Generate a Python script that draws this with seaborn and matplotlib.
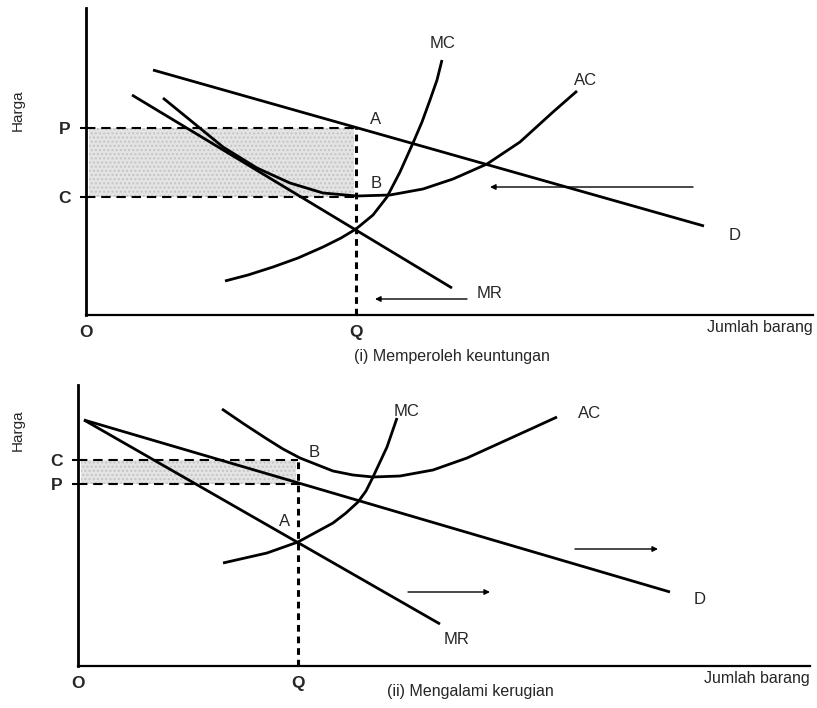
import matplotlib
matplotlib.use("Agg")
import matplotlib.pyplot as plt
import pandas as pd
import seaborn as sns

sns.set_style("white")
plt.rcParams['font.family'] = ['Liberation Sans', 'DejaVu Sans']

# ---------------- Panel (i): Memperoleh keuntungan ----------------
p1_d_q = [6.7, 61.8]
p1_d_p = [24.5, 8.9]
p1_mr_q = [4.6, 36.6]
p1_mr_p = [22.0, 2.7]
p1_ac_q = [7.7, 10.4, 13.7, 17.1, 20.4, 23.7, 27.1, 30.4, 33.7, 36.7, 40.1, 43.4, 46.7, 49.1]
p1_ac_p = [21.7, 19.5, 16.8, 14.7, 13.2, 12.2, 11.9, 12.0, 12.6, 13.6, 15.1, 17.3, 20.3, 22.4]
p1_mc_q = [13.9, 16.2, 18.7, 21.2, 23.7, 25.5, 27.0, 28.7, 30.1, 31.4, 32.7, 33.6, 34.4, 35.1, 35.6]
p1_mc_p = [3.4, 4.0, 4.8, 5.7, 6.8, 7.7, 8.6, 10.0, 11.8, 14.3, 17.2, 19.3, 21.5, 23.5, 25.5]
p1_price, p1_cost, p1_qty = 18.7, 11.8, 27.0
p1_arrows = [((60.7, 12.8), (40.4, 12.8)), ((38.1, 1.6), (28.9, 1.6))]
p1_curve_labels = [("A", 29.0, 19.5), ("B", 29.0, 13.2), ("MC", 35.7, 27.2),
                   ("AC", 50.0, 23.5), ("D", 64.9, 7.9), ("MR", 40.4, 2.1)]

# ---------------- Panel (ii): Mengalami kerugian ----------------
p2_d_q = [0.6, 59.2]
p2_d_p = [24.6, 7.4]
p2_mr_q = [0.6, 36.2]
p2_mr_p = [24.6, 4.2]
p2_ac_q = [14.4, 16.6, 18.9, 20.5, 22.2, 25.5, 27.5, 29.5, 32.2, 35.5, 38.9, 42.2, 45.5, 47.9]
p2_ac_p = [25.7, 24.2, 22.7, 21.7, 20.8, 19.5, 19.1, 18.9, 19.0, 19.6, 20.8, 22.3, 23.8, 24.9]
p2_mc_q = [14.5, 18.9, 22.0, 25.5, 26.8, 28.0, 28.8, 29.5, 30.9, 31.9]
p2_mc_p = [10.3, 11.3, 12.4, 14.3, 15.3, 16.4, 17.5, 18.9, 21.9, 24.8]
p2_price, p2_cost, p2_qty = 18.2, 20.6, 22.0
p2_arrows = [((49.7, 11.7), (58.0, 11.7)), ((33.0, 7.4), (41.2, 7.4))]
p2_curve_labels = [("A", 20.7, 14.4), ("B", 23.6, 21.4), ("MC", 32.9, 25.5),
                   ("AC", 51.2, 25.3), ("D", 62.2, 6.6), ("MR", 37.9, 2.6)]


def curves_frame(parts):
    rows = []
    for name, qs, ps in parts:
        for q, p in zip(qs, ps):
            rows.append({"curve": name, "q": q, "p": p})
    return pd.DataFrame(rows)


def draw_panel(ax, df, xmax, ymax, price, cost, qty, profit, arrows, labels,
               caption, cap_xy, harga_xy):
    ax.set_xlim(0, xmax)
    ax.set_ylim(0, ymax)

    # shaded profit / loss rectangle
    lo, hi = min(price, cost), max(price, cost)
    ax.fill_between([0.3, qty - 0.2], lo, hi, facecolor="#e4e4e4",
                    edgecolor="#c4c4c4", hatch="....", linewidth=0, zorder=1)

    sns.lineplot(data=df, x="q", y="p", units="curve", estimator=None,
                 sort=False, color="black", linewidth=2.0, ax=ax, zorder=3,
                 legend=False)
    for line in ax.lines:
        line.set_solid_joinstyle("round")
        line.set_solid_capstyle("butt")

    # dashed guide lines
    ax.plot([0, qty + 0.2], [price, price], color="black", lw=1.5,
            dashes=(4.5, 2.8), zorder=2)
    ax.plot([0, qty], [cost, cost], color="black", lw=1.5,
            dashes=(4.5, 2.8), zorder=2)
    ax.plot([qty, qty], [0, hi], color="black", lw=2.2,
            dashes=(2.2, 1.6), zorder=2)

    for (x0, y0), (x1, y1) in arrows:
        ax.annotate("", xy=(x1, y1), xytext=(x0, y0),
                    arrowprops=dict(arrowstyle="-|>", lw=1.0, color="black",
                                    mutation_scale=8, shrinkA=0, shrinkB=0))

    for text, x, y in labels:
        ax.text(x, y, text, fontsize=12, ha="center", va="center")

    # axes and tick labels
    sns.despine(ax=ax)
    ax.spines["left"].set_linewidth(2.0)
    ax.spines["bottom"].set_linewidth(1.6)
    ax.spines["left"].set_color("black")
    ax.spines["bottom"].set_color("black")
    if profit:
        ax.set_yticks([cost, price], ["C", "P"])
    else:
        ax.set_yticks([price, cost], ["P", "C"])
    ax.set_xticks([0, qty], ["O", "Q"])
    ax.tick_params(axis="y", length=4, width=1.5, pad=7, labelsize=12.5,
                   color="black", left=True)
    ax.tick_params(axis="x", length=0, pad=7, labelsize=12.5)
    for lab in ax.get_xticklabels() + ax.get_yticklabels():
        lab.set_fontweight("bold")
    ax.set_xlabel("")
    ax.set_ylabel("")

    ax.text(1.0, cap_xy[2], "Jumlah barang", transform=ax.transAxes,
            ha="right", va="center", fontsize=11.5)
    ax.text(cap_xy[0], cap_xy[1], caption, transform=ax.transAxes,
            ha="center", va="center", fontsize=11.5)
    ax.text(harga_xy[0], harga_xy[1], "Harga", transform=ax.transAxes,
            rotation=90, ha="center", va="center", fontsize=11,
            family=["Liberation Sans Narrow", "Liberation Sans"])


fig = plt.figure(figsize=(8.17, 7.08), dpi=100)
W, H = 817, 708

ax1 = fig.add_axes([86 / W, (H - 315) / H, 727 / W, 307 / H])
df1 = curves_frame([("D", p1_d_q, p1_d_p), ("MR", p1_mr_q, p1_mr_p),
                    ("AC", p1_ac_q, p1_ac_p), ("MC", p1_mc_q, p1_mc_p)])
draw_panel(ax1, df1, 72.7, 30.7, p1_price, p1_cost, p1_qty, True,
           p1_arrows, p1_curve_labels, "(i) Memperoleh keuntungan",
           (0.503, -0.134, -0.042), (-0.094, 0.668))

ax2 = fig.add_axes([78 / W, (H - 666) / H, 732 / W, 281 / H])
df2 = curves_frame([("D", p2_d_q, p2_d_p), ("MR", p2_mr_q, p2_mr_p),
                    ("AC", p2_ac_q, p2_ac_p), ("MC", p2_mc_q, p2_mc_p)])
draw_panel(ax2, df2, 73.2, 28.1, p2_price, p2_cost, p2_qty, False,
           p2_arrows, p2_curve_labels, "(ii) Mengalami kerugian",
           (0.536, -0.089, -0.046), (-0.082, 0.84))

fig.savefig("out.png", dpi=100)
